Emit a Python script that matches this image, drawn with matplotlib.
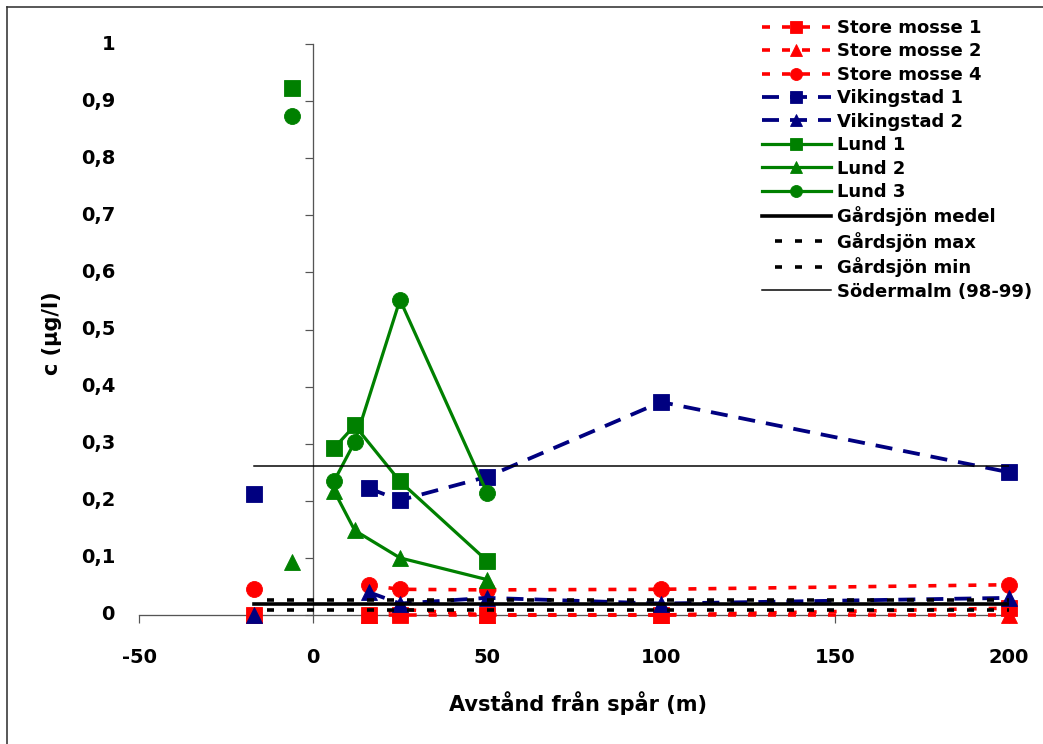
import numpy as np
import matplotlib
matplotlib.use("Agg")
import matplotlib.pyplot as plt
from matplotlib.lines import Line2D
from matplotlib import transforms

plt.rcParams['font.family'] = ['DejaVu Sans']
plt.rcParams['font.weight'] = 'bold'
plt.rcParams['lines.scale_dashes'] = False

# data (blank cells as NaN, as in the spreadsheet)
site_x = [-17, np.nan, 16, 25, 50, 100, 200]
lund_x = [-6, np.nan, 6, 12, 25, 50]

store_mosse_1 = [0.0, np.nan, 0.0, 0.0, 0.0, 0.0, 0.012]
store_mosse_2 = [0.0, np.nan, 0.0, 0.01, 0.0, 0.0, 0.0]
store_mosse_4 = [0.045, np.nan, 0.052, 0.045, 0.044, 0.045, 0.053]
vikingstad_1 = [0.212, np.nan, 0.222, 0.201, 0.242, 0.373, 0.25]
vikingstad_2 = [0.0, np.nan, 0.04, 0.02, 0.03, 0.02, 0.03]
lund_1 = [0.923, np.nan, 0.292, 0.332, 0.234, 0.095]
lund_2 = [0.092, np.nan, 0.218, 0.148, 0.10, 0.062]
lund_3 = [0.874, np.nan, 0.234, 0.303, 0.552, 0.214]

ref_x = [-17, 200]
gardsjon_medel = 0.019
gardsjon_max = 0.027
gardsjon_min = 0.009
sodermalm = 0.261

x_ticks = [-50, 0, 50, 100, 150, 200]
y_ticks = [0, 0.1, 0.2, 0.3, 0.4, 0.5, 0.6, 0.7, 0.8, 0.9, 1.0]

RED = '#FF0000'
NAVY = '#000080'
GREEN = '#008000'
PX = 0.72  # points per pixel at dpi 100

fig = plt.figure(figsize=(10.43, 7.44), dpi=100)
ax = fig.add_axes([139 / 1043, 1 - 615 / 744, 870 / 1043, 571 / 744])

red_dots = (0, (8 * PX, 12 * PX))
navy_dash = (0, (17 * PX, 11 * PX))
black_dots = (7 * PX, (7 * PX, 13 * PX))

series = [
    (site_x, store_mosse_1, 'Store mosse 1', RED, red_dots, 's', 3.6 * PX),
    (site_x, store_mosse_2, 'Store mosse 2', RED, red_dots, '^', 3.6 * PX),
    (site_x, store_mosse_4, 'Store mosse 4', RED, red_dots, 'o', 3.6 * PX),
    (site_x, vikingstad_1, 'Vikingstad 1', NAVY, navy_dash, 's', 3.8 * PX),
    (site_x, vikingstad_2, 'Vikingstad 2', NAVY, navy_dash, '^', 3.8 * PX),
    (lund_x, lund_1, 'Lund 1', GREEN, '-', 's', 3.2 * PX),
    (lund_x, lund_2, 'Lund 2', GREEN, '-', '^', 3.2 * PX),
    (lund_x, lund_3, 'Lund 3', GREEN, '-', 'o', 3.2 * PX),
]

handles = []
z = 3
for x, y, name, col, ls, mk, lw in series:
    ms = 12 if mk == '^' else 11.5
    h, = ax.plot(x, y, color=col, linestyle=ls, linewidth=lw, marker=mk,
                 markersize=ms, markeredgewidth=0.6, markeredgecolor=col,
                 label=name, clip_on=False, zorder=z)
    handles.append(h)
    z += 1

h, = ax.plot(ref_x, [gardsjon_medel] * 2, color='black', linewidth=3.6 * PX,
             label='Gårdsjön medel', zorder=z)
handles.append(h)
h, = ax.plot(ref_x, [gardsjon_max] * 2, color='black', linewidth=3.6 * PX,
             linestyle=black_dots, label='Gårdsjön max', zorder=z + 1)
handles.append(h)
h, = ax.plot(ref_x, [gardsjon_min] * 2, color='black', linewidth=3.6 * PX,
             linestyle=black_dots, label='Gårdsjön min', zorder=z + 2)
handles.append(h)
h, = ax.plot(ref_x, [sodermalm] * 2, color='black', linewidth=1.5 * PX,
             label='Södermalm (98-99)', zorder=z + 3)
handles.append(h)

ax.set_xlim(-50, 200)
ax.set_ylim(0, 1)

for s in ['top', 'right']:
    ax.spines[s].set_visible(False)
ax.spines['left'].set_position(('data', 0))
for s in ['left', 'bottom']:
    ax.spines[s].set_color('#555555')
    ax.spines[s].set_linewidth(1.3 * PX)
    ax.spines[s].set_zorder(1)

ax.set_xticks(x_ticks)
ax.set_xticklabels([str(v) for v in x_ticks], fontsize=14, fontweight='bold')
ax.set_yticks(y_ticks)
ax.tick_params(axis='both', direction='out', length=8 * PX, width=1.2 * PX,
               color='#555555')
ax.tick_params(axis='x', pad=18)
ax.tick_params(axis='y', labelleft=False)

# y tick labels sit at the left edge of the plot area
trans = transforms.blended_transform_factory(fig.transFigure, ax.transData)
for v in y_ticks:
    lab = '0' if v == 0 else ('1' if v == 1 else ('%.1f' % v).replace('.', ','))
    ax.text(115 / 1043, v, lab, transform=trans, ha='right', va='center',
            fontsize=14, fontweight='bold')

fig.text(578 / 1043, 1 - 703 / 744, 'Avstånd från spår (m)', ha='center',
         va='center', fontsize=15, fontweight='bold')
fig.text(52 / 1043, 1 - 333 / 744, 'c (µg/l)', ha='center', va='center',
         rotation=90, fontsize=15, fontweight='bold')

leg = fig.legend(handles=handles, loc='upper left',
                 bbox_to_anchor=(762 / 1043, 1 - 19 / 744),
                 frameon=False, fontsize=13, numpoints=1, handlelength=3.8,
                 handletextpad=0.35, labelspacing=0.3, borderpad=0,
                 borderaxespad=0, markerscale=0.75)
for t in leg.get_texts():
    t.set_fontweight('bold')

# chart area border (top and left edges visible)
fig.add_artist(Line2D([7 / 1043, 7 / 1043], [0, 1 - 7 / 744],
                      transform=fig.transFigure, color='#333333', lw=1.6 * PX))
fig.add_artist(Line2D([7 / 1043, 1], [1 - 7 / 744, 1 - 7 / 744],
                      transform=fig.transFigure, color='#333333', lw=1.6 * PX))

fig.savefig('out.png', dpi=100)
